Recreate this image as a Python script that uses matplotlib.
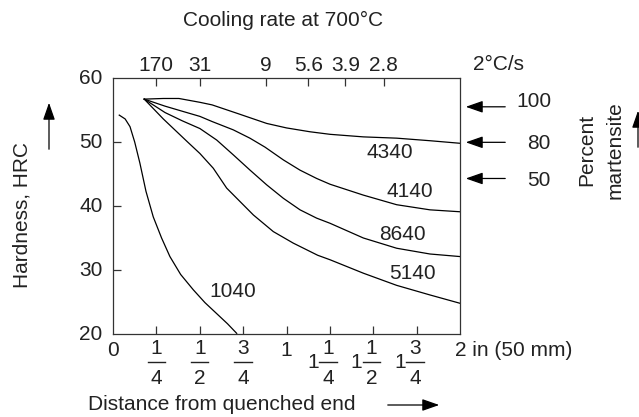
import matplotlib
matplotlib.use("Agg")
import matplotlib.pyplot as plt
from matplotlib.patches import FancyArrowPatch
from matplotlib.transforms import blended_transform_factory

plt.rcParams['font.family'] = ['Liberation Sans', 'DejaVu Sans']
TXT = '#222222'
FS = 15

# ---- data (distance in inches, hardness HRC) ----
x_4340 = [0.18, 0.29, 0.38, 0.501, 0.571, 0.724, 0.886, 1.0, 1.135, 1.251, 1.443, 1.635, 1.827, 2.0]
y_4340 = [56.7, 56.8, 56.8, 56.2, 55.8, 54.4, 52.9, 52.2, 51.6, 51.2, 50.8, 50.6, 50.2, 49.8]

x_4140 = [0.18, 0.30, 0.40, 0.501, 0.571, 0.693, 0.789, 0.876, 0.982, 1.078, 1.174, 1.251, 1.443, 1.635, 1.827, 2.0]
y_4140 = [56.7, 55.6, 54.8, 54.0, 53.2, 51.9, 50.6, 49.2, 47.2, 45.6, 44.3, 43.4, 41.7, 40.2, 39.4, 39.1]

x_8640 = [0.18, 0.30, 0.40, 0.501, 0.598, 0.693, 0.79, 0.886, 0.982, 1.078, 1.174, 1.251, 1.443, 1.635, 1.827, 2.0]
y_8640 = [56.7, 54.6, 53.3, 52.1, 50.3, 48.0, 45.6, 43.3, 41.2, 39.4, 38.1, 37.3, 35.0, 33.4, 32.5, 32.1]

x_5140 = [0.18, 0.29, 0.36, 0.43, 0.501, 0.578, 0.655, 0.732, 0.809, 0.924, 1.039, 1.18, 1.251, 1.443, 1.635, 1.827, 2.0]
y_5140 = [56.7, 53.6, 51.8, 50.0, 48.2, 45.9, 42.8, 40.7, 38.6, 36.0, 34.2, 32.3, 31.6, 29.5, 27.6, 26.1, 24.8]

x_1040 = [0.036, 0.07, 0.098, 0.125, 0.155, 0.19, 0.232, 0.28, 0.328, 0.39, 0.463, 0.53, 0.597, 0.66, 0.713]
y_1040 = [54.2, 53.6, 52.4, 50.0, 46.7, 42.3, 38.3, 35.0, 32.1, 29.3, 26.9, 24.9, 23.2, 21.6, 20.1]

curves = [
    (x_4340, y_4340, '4340', 1.595, 48.4),
    (x_4140, y_4140, '4140', 1.708, 42.2),
    (x_8640, y_8640, '8640', 1.670, 35.6),
    (x_5140, y_5140, '5140', 1.727, 29.5),
    (x_1040, y_1040, '1040', 0.693, 26.7),
]

# top axis: cooling rate at 700 C
rate_pos = [0.25, 0.5, 0.88, 1.125, 1.34, 1.56]
rate_labels = ['170', '31', '9', '5.6', '3.9', '2.8']

# bottom ticks (inches)
dist_ticks = [0.25, 0.5, 0.75, 1.0, 1.25, 1.5, 1.75]
# (whole, numerator, denominator)
dist_labels = [('', '1', '4'), ('', '1', '2'), ('', '3', '4'), ('1', '', ''),
               ('1', '1', '4'), ('1', '1', '2'), ('1', '3', '4')]

# percent martensite marks (hardness)
mart_hrc = [55.5, 49.95, 44.3]
mart_labels = ['100', '80', '50']

W, H = 639, 417
fig = plt.figure(figsize=(W / 100, H / 100), dpi=100)
ax = fig.add_axes([113 / W, 1 - 334 / H, 347 / W, 256 / H])
ax.set_xlim(0, 2)
ax.set_ylim(20, 60)

def fy(py):
    return 1 - py / H

ARROW = dict(arrowstyle='-|>,head_length=0.8,head_width=0.28', mutation_scale=13,
             color='black', lw=0.9)

for xs, ys, name, lx, ly in curves:
    ax.plot(xs, ys, color='black', lw=0.9, solid_joinstyle='round')
    ax.text(lx, ly, name, fontsize=FS, color=TXT, ha='center', va='center')

for s in ax.spines.values():
    s.set_color('#333333')
    s.set_linewidth(0.9)

ax.set_yticks([30, 40, 50])
ax.set_yticklabels([])
ax.tick_params(axis='y', direction='in', length=6, width=0.9, color='#333333', left=True, right=False)
ax.set_xticks(dist_ticks)
ax.set_xticklabels([])
ax.tick_params(axis='x', direction='in', length=6, width=0.9, color='#333333')

# y labels (60..20)
for v in [60, 50, 40, 30, 20]:
    ax.text(-0.06, v, str(v), fontsize=FS, color=TXT, ha='right', va='center')

# bottom labels
bt = blended_transform_factory(ax.transData, fig.transFigure)
ax.text(0.0, fy(350), '0', transform=bt, fontsize=FS, color=TXT, ha='center', va='center')
for xp, (whole, num, den) in zip(dist_ticks, dist_labels):
    if num:
        xc = xp - (0.01 if whole else 0.0)
        ax.text(xc, fy(348), num, transform=bt, fontsize=FS, color=TXT, ha='center', va='center')
        ax.text(xc, fy(378), den, transform=bt, fontsize=FS, color=TXT, ha='center', va='center')
        ax.plot([xc - 0.05, xc + 0.05], [fy(362), fy(362)], transform=bt, color=TXT,
                lw=1.0, clip_on=False)
        if whole:
            ax.text(xc - 0.052, fy(362), whole, transform=bt, fontsize=FS, color=TXT,
                    ha='right', va='center')
    else:
        ax.text(xp, fy(350), whole, transform=bt, fontsize=FS, color=TXT, ha='center', va='center')
ax.text(2.0 - 0.03, fy(350), '2 in (50 mm)', transform=bt, fontsize=FS, color=TXT, ha='left', va='center')

fig.text(88 / W, fy(405), 'Distance from quenched end', fontsize=FS, color=TXT, ha='left', va='center')
fig.add_artist(FancyArrowPatch((385 / W, fy(405)), (442 / W, fy(405)),
                               transform=fig.transFigure, **ARROW))

# top axis
axt = ax.twiny()
axt.set_xlim(0, 2)
axt.set_xticks(rate_pos)
axt.set_xticklabels(rate_labels, fontsize=FS, color=TXT)
axt.tick_params(axis='x', direction='in', length=6, width=0.9, color='#333333', pad=2)
for s in axt.spines.values():
    s.set_visible(False)
fig.text(473 / W, fy(64), '2°C/s', fontsize=FS, color=TXT, ha='left', va='center')
fig.text(283 / W, fy(20), 'Cooling rate at 700°C', fontsize=FS, color=TXT, ha='center', va='center')

# left label + arrow
fig.text(22 / W, fy(215), 'Hardness, HRC', fontsize=FS, color=TXT, rotation=90, ha='center', va='center')
fig.add_artist(FancyArrowPatch((49 / W, fy(152)), (49 / W, fy(100)),
                               transform=fig.transFigure, **ARROW))

# martensite arrows
rt = blended_transform_factory(fig.transFigure, ax.transData)
text_py = [101.7, 143.3, 180.0]
for v, lab, tp in zip(mart_hrc, mart_labels, text_py):
    ax.annotate('', xy=(463 / W, v), xycoords=rt, xytext=(508 / W, v), textcoords=rt,
                arrowprops=ARROW)
    fig.text(551 / W, fy(tp), lab, fontsize=FS, color=TXT, ha='right', va='center')

fig.text(587 / W, fy(150), 'Percent', fontsize=FS, color=TXT, rotation=90, ha='center', va='center')
fig.text(615 / W, fy(150), 'martensite', fontsize=FS, color=TXT, rotation=90, ha='center', va='center')
fig.add_artist(FancyArrowPatch((638 / W, fy(150)), (638 / W, fy(108)),
                               transform=fig.transFigure, **ARROW))

fig.savefig('out.png', dpi=100)
